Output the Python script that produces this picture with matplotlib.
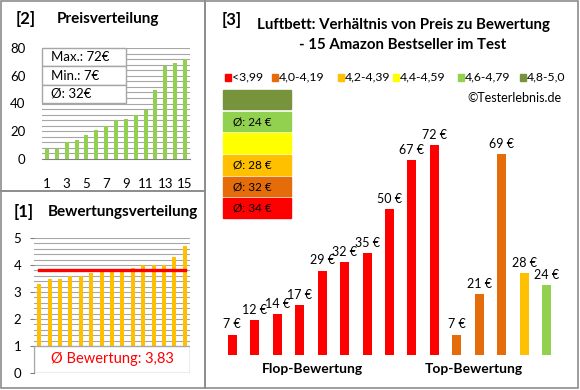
import numpy as np
import matplotlib.pyplot as plt
from matplotlib.patches import Rectangle

plt.rcParams['font.family'] = ['Lato', 'DejaVu Sans']

# data
price_idx = list(range(1, 16))
prices_sorted = [7, 7, 12, 14, 17, 21, 24, 28, 29, 32, 35, 50, 67, 69, 72]
ratings_sorted = [3.3, 3.5, 3.5, 3.6, 3.6, 3.7, 3.8, 3.8, 3.8, 3.9, 4.0, 4.0, 4.0, 4.3, 4.7]
rating_mean = 3.83

bar_prices = [7, 12, 14, 17, 29, 32, 35, 50, 67, 72, 7, 21, 69, 28, 24]
bar_groups = [0] * 10 + [1] * 3 + [2] + [4]

legend_labels = ['<3,99', '4,0-4,19', '4,2-4,39', '4,4-4,59', '4,6-4,79', '4,8-5,0']
legend_colors = ['#FF0000', '#E46C0A', '#FFC000', '#FFFF00', '#92D050', '#77933C']
group_avg = ['34', '32', '28', '', '24', '']

W, H = 580, 390
GRID = '#A6A6A6'
BORDER = '#8C8C8C'


def fx(x):
    return x / W


def fy(y):
    return 1 - y / H


def add_ax(x0, y0, x1, y1):
    # pixel box -> figure axes
    return fig.add_axes([fx(x0), fy(y1), (x1 - x0) / W, (y1 - y0) / H])


fig = plt.figure(figsize=(5.8, 3.9), dpi=100)

# panel borders
for (x0, y0, x1, y1) in [(1, 1, 205, 191), (1, 191, 205, 388), (205, 1, 578, 388)]:
    fig.patches.append(Rectangle((fx(x0), fy(y1)), (x1 - x0) / W, (y1 - y0) / H,
                                 transform=fig.transFigure, fill=False,
                                 edgecolor=BORDER, lw=1.2))

# ---- [2] Preisverteilung ----
fig.text(fx(16), fy(19), '[2]', fontsize=12, fontweight='bold', va='center')
fig.text(fx(57), fy(19), 'Preisverteilung', fontsize=11, fontweight='bold', va='center')

ax1 = add_ax(42, 48, 190, 159)
ax1.bar(price_idx, prices_sorted, width=0.4, color='#92D050', zorder=3)
ax1.set_xlim(0.5, 15.5)
ax1.set_ylim(0, 80)
for v in np.arange(4, 81, 4):
    ax1.axhline(v, color=GRID, lw=0.8, zorder=1)
ax1.set_yticks([0, 20, 40, 60, 80])
ax1.set_xticks(range(1, 16, 2))
ax1.tick_params(axis='y', length=0, pad=12, labelsize=9.5)
ax1.tick_params(axis='x', length=0, pad=14, labelsize=9.5)
for s in ['top', 'right', 'left']:
    ax1.spines[s].set_visible(False)
ax1.spines['bottom'].set_color('#808080')

stats = ['Max.: %d€' % max(prices_sorted), 'Min.: %d€' % min(prices_sorted),
         'Ø: %d€' % round(np.mean(prices_sorted))]
row_h = (103 - 48) / 3
for i, t in enumerate(stats):
    y0 = 48 + i * row_h
    fig.patches.append(Rectangle((fx(42), fy(y0 + row_h)), (126 - 42) / W, row_h / H,
                                 transform=fig.transFigure, facecolor='white',
                                 edgecolor=GRID, lw=1, zorder=5))
    fig.text(fx(51), fy(y0 + row_h / 2), t, fontsize=9.5, va='center', zorder=6)

# ---- [1] Bewertungsverteilung ----
fig.text(fx(14), fy(212), '[1]', fontsize=12, fontweight='bold', va='center')
fig.text(fx(48), fy(212), 'Bewertungsverteilung', fontsize=11, fontweight='bold', va='center')

ax2 = add_ax(34, 238, 190, 373)
ax2.bar(price_idx, ratings_sorted, width=0.4, color='#FFC000', zorder=3)
ax2.plot([1, 15], [rating_mean, rating_mean], color='#FF0000', lw=2.4, zorder=4)
ax2.set_xlim(0.5, 15.5)
ax2.set_ylim(0, 5)
for v in np.arange(1.2, 5.01, 0.2):
    ax2.axhline(v, color=GRID, lw=0.8, zorder=1)
ax2.add_patch(Rectangle((0.5, 0), 15, 1, facecolor='white', edgecolor=GRID, lw=1, zorder=5))
ax2.text(8, 0.5, 'Ø Bewertung: %s' % ('%.2f' % rating_mean).replace('.', ','),
         color='#FF0000', fontsize=10.5, ha='center', va='center', zorder=6)
ax2.set_yticks(range(6))
ax2.set_xticks([])
ax2.tick_params(axis='y', length=3, color='#808080', pad=6, labelsize=9.5)
for s in ['top', 'right', 'bottom']:
    ax2.spines[s].set_visible(False)
ax2.spines['left'].set_color('#808080')
ax2.spines['left'].set_bounds(0, 1)

# ---- [3] Preis / Bewertung ----
fig.text(fx(222), fy(20), '[3]', fontsize=12, fontweight='bold', va='center')
fig.text(fx(403), fy(25), 'Luftbett: Verhältnis von Preis zu Bewertung',
         fontsize=10.8, fontweight='bold', ha='center', va='center')
fig.text(fx(403), fy(45), '- 15 Amazon Bestseller im Test',
         fontsize=10.8, fontweight='bold', ha='center', va='center')

legend_x = [225, 272, 338, 393, 458, 520]
for x, lab, col in zip(legend_x, legend_labels, legend_colors):
    fig.patches.append(Rectangle((fx(x), fy(81)), 6 / W, 7 / H,
                                 transform=fig.transFigure, color=col))
    fig.text(fx(x + 7), fy(77), lab, fontsize=8.8, va='center')

fig.text(fx(562), fy(98), '©Testerlebnis.de', fontsize=9, ha='right', va='center')

# colour boxes with group averages (top = best rating)
box_rows = [(90, 109), (112, 131), (133, 153), (155, 175), (177, 196), (198, 218)]
for (y0, y1), gi in zip(box_rows, [5, 4, 3, 2, 1, 0]):
    fig.patches.append(Rectangle((fx(223), fy(y1)), (291 - 223) / W, (y1 - y0) / H,
                                 transform=fig.transFigure, color=legend_colors[gi]))
    if group_avg[gi]:
        fig.text(fx(233), fy((y0 + y1) / 2), 'Ø: %s €' % group_avg[gi],
                 fontsize=8.5, va='center')

ax3 = add_ax(221, 122, 558, 355)
xs = np.arange(1, len(bar_prices) + 1)
cols = [legend_colors[g] for g in bar_groups]
ax3.bar(xs, bar_prices, width=0.4, color=cols)
for x, p in zip(xs, bar_prices):
    ax3.annotate('%d €' % p, (x, p), xytext=(0, 3), textcoords='offset points',
                 ha='center', va='bottom', fontsize=9)
ax3.set_xlim(0.5, 15.5)
ax3.set_ylim(0, 80)
ax3.axis('off')

fig.text(fx(312), fy(369), 'Flop-Bewertung', fontsize=10, fontweight='bold', ha='center', va='center')
fig.text(fx(474), fy(369), 'Top-Bewertung', fontsize=10, fontweight='bold', ha='center', va='center')

fig.savefig('out.png', dpi=100)
